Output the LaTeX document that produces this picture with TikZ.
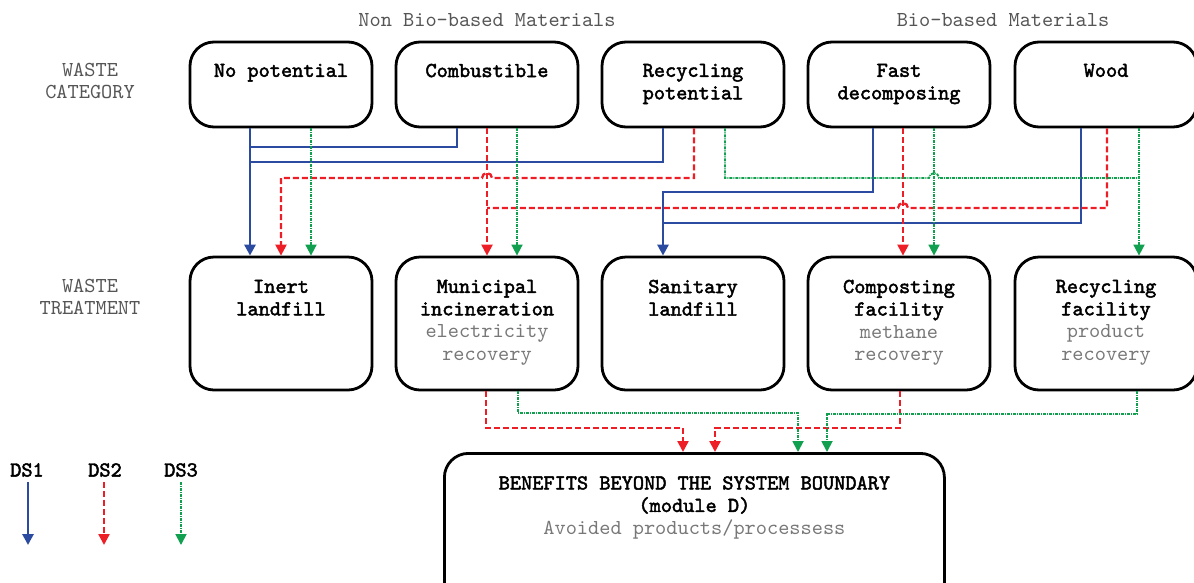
\documentclass[tikz,border=0pt]{standalone}
\usepackage{fontspec}
\setmonofont[AutoFakeBold=2.2]{lmmono10-regular.otf}
\usetikzlibrary{arrows.meta,calc}
\definecolor{dsblue}{RGB}{43,75,160}
\definecolor{dsred}{RGB}{238,30,38}
\definecolor{dsgreen}{RGB}{16,160,80}
\definecolor{labgray}{RGB}{85,85,85}
\definecolor{subgray}{RGB}{120,120,120}
\begin{document}
\begin{tikzpicture}[x=1pt,y=-1pt,
  box/.style={draw=black, line width=2.8pt, rounded corners=24pt, minimum width=182pt, inner sep=0pt},
  topbox/.style={box, minimum height=85pt},
  botbox/.style={box, minimum height=133pt},
  ttl/.style={font=\ttfamily\fontsize{21.3}{22.5}\selectfont, align=center, anchor=north, inner sep=0pt},
  lab/.style={font=\ttfamily\fontsize{21.3}{22.5}\selectfont, align=center, text=labgray, inner sep=0pt},
  tip/.style={-{Triangle[width=11pt,length=11pt]}},
  ds1/.style={draw=dsblue, line width=2.8pt},
  ds2/.style={draw=dsred, line width=2.3pt, dash pattern=on 6pt off 3pt},
  ds3/.style={draw=dsgreen, line width=1.8pt, dash pattern=on 3pt off 1pt on 1pt off 1pt},
]
\useasboundingbox (0,0) rectangle (1194,582);
\clip (0,0) rectangle (1194,582);

% headings
\node[lab] (hnb) at (487,20) {Non Bio-based Materials};
\node[lab] (hb) at (1003,20) {Bio-based Materials};
\node[lab] (hwc) at (90,81) {WASTE\\CATEGORY};
\node[lab] (hwt) at (90,297) {WASTE\\TREATMENT};

% top boxes
\node[topbox] (np) at (281,84.5) {};
\node[topbox] (cb) at (487,84.5) {};
\node[topbox] (rp) at (693,84.5) {};
\node[topbox] (fd) at (899,84.5) {};
\node[topbox] (wd) at (1106,84.5) {};
\node[ttl] (npt) at ($(np.north)+(0,23)$) {\textbf{No potential}};
\node[ttl] (cbt) at ($(cb.north)+(0,23)$) {\textbf{Combustible}};
\node[ttl] (rpt) at ($(rp.north)+(0,23)$) {\textbf{Recycling}\\\textbf{potential}};
\node[ttl] (fdt) at ($(fd.north)+(0,23)$) {\textbf{Fast}\\\textbf{decomposing}};
\node[ttl] (wdt) at ($(wd.north)+(0,23)$) {\textbf{Wood}};

% bottom boxes
\node[botbox] (il) at (281,323.5) {};
\node[botbox] (mi) at (487,323.5) {};
\node[botbox] (sl) at (693,323.5) {};
\node[botbox] (cf) at (899,323.5) {};
\node[botbox] (rf) at (1106,323.5) {};
\node[ttl] (ilt) at ($(il.north)+(0,24)$) {\textbf{Inert}\\\textbf{landfill}};
\node[ttl] (mit) at ($(mi.north)+(0,24)$) {\textbf{Municipal}\\\textbf{incineration}\\\textcolor{subgray}{electricity}\\\textcolor{subgray}{recovery}};
\node[ttl] (slt) at ($(sl.north)+(0,24)$) {\textbf{Sanitary}\\\textbf{landfill}};
\node[ttl] (cft) at ($(cf.north)+(0,24)$) {\textbf{Composting}\\\textbf{facility}\\\textcolor{subgray}{methane}\\\textcolor{subgray}{recovery}};
\node[ttl] (rft) at ($(rf.north)+(0,24)$) {\textbf{Recycling}\\\textbf{facility}\\\textcolor{subgray}{product}\\\textcolor{subgray}{recovery}};

% module D
\node[box, minimum width=500pt, minimum height=160pt, anchor=north west] (md) at (443,452) {};
\node[ttl] (mdt) at ($(md.north)+(0,24)$) {\textbf{BENEFITS BEYOND THE SYSTEM BOUNDARY}\\\textbf{(module D)}\\\textcolor{subgray}{Avoided products/processess}};

% junction coordinates
\coordinate (jb1) at (250,147);
\coordinate (jb2) at (250,162);
\coordinate (jb3) at (663,223);
\coordinate (jr1) at (487,208);
\coordinate (jg1) at (1139,178);

% DS1 (blue)
\draw[ds1,tip] (250,0 |- np.south) -- (250,0 |- il.north);
\draw[ds1] (457,0 |- cb.south) |- (jb1);
\draw[ds1] (663,0 |- rp.south) |- (jb2);
\draw[ds1,tip] (873,0 |- fd.south) -- (873,192) -| (663,0 |- sl.north);
\draw[ds1] (1081,0 |- wd.south) |- (jb3);

% DS2 (red)
\draw[ds2,tip] (694,0 |- rp.south) -- (694,178) -- (492,178)
   arc[start angle=0,end angle=-180,radius=5] -- (281,178) -- (281,0 |- il.north);
\draw[ds2,tip] (487,0 |- cb.south) -- (487,0 |- mi.north);
\draw[ds2] (1107,0 |- wd.south) -- (1107,208) -- (908,208)
   arc[start angle=0,end angle=-180,radius=5] -- (jr1);
\draw[ds2,tip] (903,0 |- fd.south) -- (903,0 |- cf.north);

% DS3 (green)
\draw[ds3,tip] (311,0 |- np.south) -- (311,0 |- il.north);
\draw[ds3,tip] (517,0 |- cb.south) -- (517,0 |- mi.north);
\draw[ds3] (725,0 |- rp.south) -- (725,178) -- (929,178)
   arc[start angle=180,end angle=360,radius=5] -- (jg1);
\draw[ds3,tip] (934,0 |- fd.south) -- (934,0 |- cf.north);
\draw[ds3,tip] (1139,0 |- wd.south) -- (1139,0 |- rf.north);

% to module D
\draw[ds2,tip] (486,0 |- mi.south) |- (683,428) -- (683,0 |- md.north);
\draw[ds3,tip] (518,0 |- mi.south) |- (798,413) -- (798,0 |- md.north);
\draw[ds2,tip] (900,0 |- cf.south) |- (715,428) -- (715,0 |- md.north);
\draw[ds3,tip] (1137,0 |- rf.south) |- (827,414) -- (827,0 |- md.north);

% legend
\node[ttl, anchor=center] (l1) at (27,470) {\textbf{DS1}};
\node[ttl, anchor=center] (l2) at (105,470) {\textbf{DS2}};
\node[ttl, anchor=center] (l3) at (181,470) {\textbf{DS3}};
\coordinate (e1) at (28,545);
\coordinate (e2) at (104,545);
\coordinate (e3) at (181,545);
\draw[ds1,tip] (l1.south -| e1) ++(0,5) -- (e1);
\draw[ds2,tip] (l2.south -| e2) ++(0,5) -- (e2);
\draw[ds3,tip] (l3.south -| e3) ++(0,5) -- (e3);
\end{tikzpicture}
\end{document}
